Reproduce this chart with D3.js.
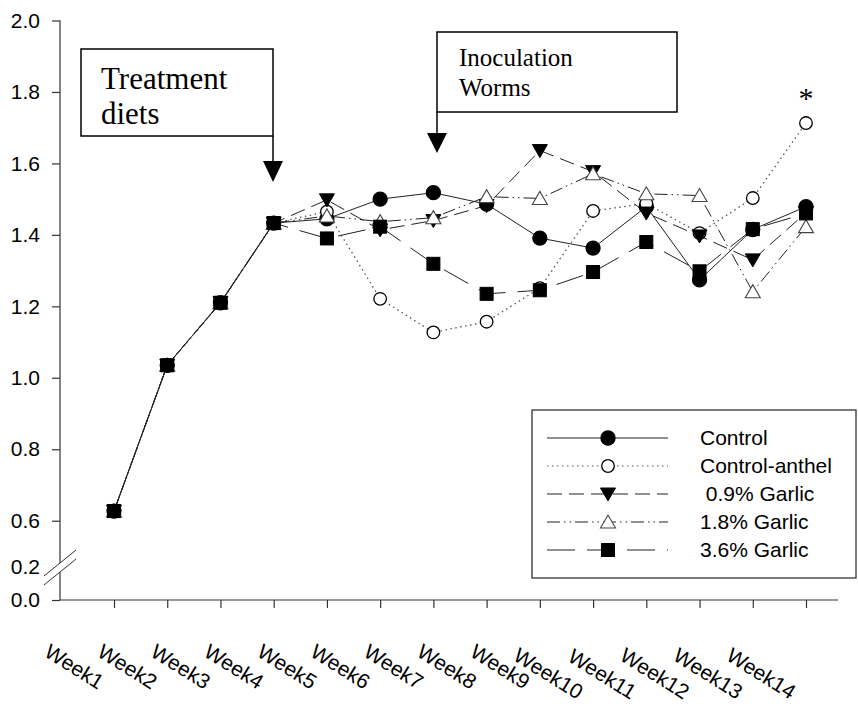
<!DOCTYPE html>
<meta charset="utf-8">
<head>
    <title>Weekly weights</title>
    <style>
        body { margin: 0; background: #fff; }
        svg text { font-family: "Liberation Sans", Arial, sans-serif; }
        svg text.serif { font-family: "Liberation Serif", "Times New Roman", serif; }
    </style>
</head>
<body>
<script src="https://d3js.org/d3.v7.min.js"></script>
<svg id="chart" width="858" height="720"></svg>

<script>
    // values
    var weeks = ["Week1", "Week2", "Week3", "Week4", "Week5", "Week6", "Week7",
                 "Week8", "Week9", "Week10", "Week11", "Week12", "Week13", "Week14"];

    var control       = [0.627, 1.035, 1.21, 1.433, 1.445, 1.50, 1.518, 1.486, 1.391, 1.363, 1.479, 1.274, 1.415, 1.479];
    var controlAnthel = [0.627, 1.035, 1.21, 1.433, 1.465, 1.221, 1.127, 1.157, 1.251, 1.467, 1.488, 1.405, 1.503, 1.713];
    var garlic09      = [0.627, 1.035, 1.21, 1.433, 1.498, 1.414, 1.44, 1.482, 1.636, 1.577, 1.461, 1.397, 1.33, 1.462];
    var garlic18      = [0.627, 1.035, 1.21, 1.433, 1.453, 1.437, 1.448, 1.507, 1.502, 1.571, 1.515, 1.51, 1.241, 1.423];
    var garlic36      = [0.627, 1.035, 1.21, 1.433, 1.39, 1.423, 1.319, 1.235, 1.245, 1.296, 1.38, 1.298, 1.416, 1.46];

    var seriesNames = ["Control", "Control-anthel", " 0.9% Garlic", "1.8% Garlic", "3.6% Garlic"];
    var yTicks = [0, 0.2, 0.6, 0.8, 1.0, 1.2, 1.4, 1.6, 1.8, 2.0];

    var series = [
        {name: seriesNames[0], values: control,       dash: null,                 sym: "circle",  fill: "#000"},
        {name: seriesNames[1], values: controlAnthel, dash: "1.5,3.5",            sym: "circle",  fill: "#fff"},
        {name: seriesNames[2], values: garlic09,      dash: "15,7",               sym: "tridown", fill: "#000"},
        {name: seriesNames[3], values: garlic18,      dash: "13,4,1.5,4,1.5,4",   sym: "triup",   fill: "#fff"},
        {name: seriesNames[4], values: garlic36,      dash: "28,12",              sym: "square",  fill: "#000"}
    ];

    var svg = d3.select("#chart");

    var x = d3.scalePoint().domain(weeks).range([114, 806]);
    // broken axis: 0 - 0.2 squeezed below the break
    var y = d3.scaleLinear().domain([0, 0.2, 0.6, 2.0]).range([600, 567, 520.7, 20.5]);

    // axis lines with break
    var ax = svg.append("g").attr("stroke", "#333").attr("stroke-width", 1.2);
    ax.append("line").attr("x1", 60).attr("x2", 60).attr("y1", y(2.0)).attr("y2", 563);
    ax.append("line").attr("x1", 60).attr("x2", 60).attr("y1", 572).attr("y2", 600);
    ax.append("line").attr("x1", 60).attr("x2", 838).attr("y1", 600).attr("y2", 600);
    ax.append("line").attr("x1", 44).attr("y1", 576).attr("x2", 76).attr("y2", 550).attr("stroke-width", 1);
    ax.append("line").attr("x1", 44).attr("y1", 585).attr("x2", 76).attr("y2", 559).attr("stroke-width", 1);

    var yAxis = svg.append("g")
        .attr("transform", "translate(60,0)")
        .call(d3.axisLeft(y).tickValues(yTicks).tickFormat(d3.format(".1f")).tickSize(8).tickPadding(12));
    yAxis.select(".domain").remove();
    yAxis.selectAll(".tick line").attr("stroke", "#333").attr("stroke-width", 1.2)
        .filter(d => d === 0.2).remove();
    yAxis.selectAll(".tick text").attr("fill", "#000")
        .style("font-size", "21px");

    var xAxis = svg.append("g")
        .attr("transform", "translate(0,600)")
        .call(d3.axisBottom(x).tickSize(8).tickFormat(""));
    xAxis.select(".domain").remove();
    xAxis.selectAll(".tick line").attr("stroke", "#333").attr("stroke-width", 1.2);

    // rotated week labels
    svg.append("g").selectAll("text")
        .data(weeks)
        .join("text")
        .attr("transform", d => "translate(" + (x(d) - 16) + "," + (690 + (d.length - 5) * 10) + ") rotate(32)")
        .attr("text-anchor", "end")
        .style("font-size", "21px")
        .text(d => d);

    function symbol(g, type, cx, cy, fill) {
        if (type === "circle") {
            g.append("circle").attr("cx", cx).attr("cy", cy).attr("r", fill === "#000" ? 7 : 6.3)
                .attr("fill", fill).attr("stroke", "#000").attr("stroke-width", 1.3);
        } else if (type === "square") {
            g.append("rect").attr("x", cx - 6.5).attr("y", cy - 6.5).attr("width", 13).attr("height", 13)
                .attr("fill", fill).attr("stroke", "#000").attr("stroke-width", 1);
        } else if (type === "tridown") {
            g.append("path").attr("d", "M" + (cx - 7.5) + "," + (cy - 6) + "L" + (cx + 7.5) + "," + (cy - 6) + "L" + cx + "," + (cy + 7) + "Z")
                .attr("fill", fill).attr("stroke", "#000").attr("stroke-width", 1);
        } else {
            g.append("path").attr("d", "M" + (cx - 7.5) + "," + (cy + 6) + "L" + (cx + 7.5) + "," + (cy + 6) + "L" + cx + "," + (cy - 7) + "Z")
                .attr("fill", fill).attr("stroke", "#444").attr("stroke-width", 1.1);
        }
    }

    var line = d3.line().x((d, i) => x(weeks[i])).y(d => y(d));

    var plot = svg.append("g");
    series.forEach(function (s) {
        plot.append("path")
            .attr("d", line(s.values))
            .attr("fill", "none")
            .attr("stroke", s.dash === "1.5,3.5" ? "#555" : "#222")
            .attr("stroke-width", s.dash === "1.5,3.5" ? 1.3 : 1)
            .attr("stroke-dasharray", s.dash);
    });
    series.forEach(function (s) {
        var g = plot.append("g");
        s.values.forEach((v, i) => symbol(g, s.sym, x(weeks[i]), y(v), s.fill));
    });

    // legend
    var leg = svg.append("g");
    leg.append("rect").attr("x", 532).attr("y", 410).attr("width", 324).attr("height", 168)
        .attr("fill", "#fff").attr("stroke", "#333").attr("stroke-width", 1.3);
    series.forEach(function (s, i) {
        var ly = 438 + i * 28;
        leg.append("line").attr("x1", 547).attr("x2", 668).attr("y1", ly).attr("y2", ly)
            .attr("stroke", s.dash === "1.5,3.5" ? "#555" : "#222")
            .attr("stroke-width", 1).attr("stroke-dasharray", s.dash);
        symbol(leg, s.sym, 608, ly, s.fill);
        leg.append("text").attr("x", 700).attr("y", ly + 7)
            .style("font-size", "21px").style("white-space", "pre").text(s.name);
    });

    // annotations
    var ann = svg.append("g");
    ann.append("rect").attr("x", 81).attr("y", 49).attr("width", 192).attr("height", 87)
        .attr("fill", "#fff").attr("stroke", "#000").attr("stroke-width", 1.5);
    ann.append("text").attr("class", "serif").attr("x", 101).attr("y", 89).style("font-size", "31px").text("Treatment");
    ann.append("text").attr("class", "serif").attr("x", 101).attr("y", 124).style("font-size", "31px").text("diets");
    ann.append("line").attr("x1", 273).attr("x2", 273).attr("y1", 136).attr("y2", 162)
        .attr("stroke", "#000").attr("stroke-width", 1.5);
    ann.append("path").attr("d", "M263,161L283,161L273,182Z").attr("fill", "#000");

    ann.append("rect").attr("x", 437).attr("y", 32).attr("width", 240).attr("height", 80)
        .attr("fill", "#fff").attr("stroke", "#000").attr("stroke-width", 1.5);
    ann.append("text").attr("class", "serif").attr("x", 459).attr("y", 66).style("font-size", "25px").text("Inoculation");
    ann.append("text").attr("class", "serif").attr("x", 459).attr("y", 96).style("font-size", "25px").text("Worms");
    ann.append("line").attr("x1", 437).attr("x2", 437).attr("y1", 112).attr("y2", 134)
        .attr("stroke", "#000").attr("stroke-width", 1.5);
    ann.append("path").attr("d", "M427,133L447,133L437,153Z").attr("fill", "#000");

    ann.append("text").attr("class", "serif").attr("x", x("Week14")).attr("y", 108).attr("text-anchor", "middle")
        .style("font-size", "30px").text("*");
</script>
</body>
